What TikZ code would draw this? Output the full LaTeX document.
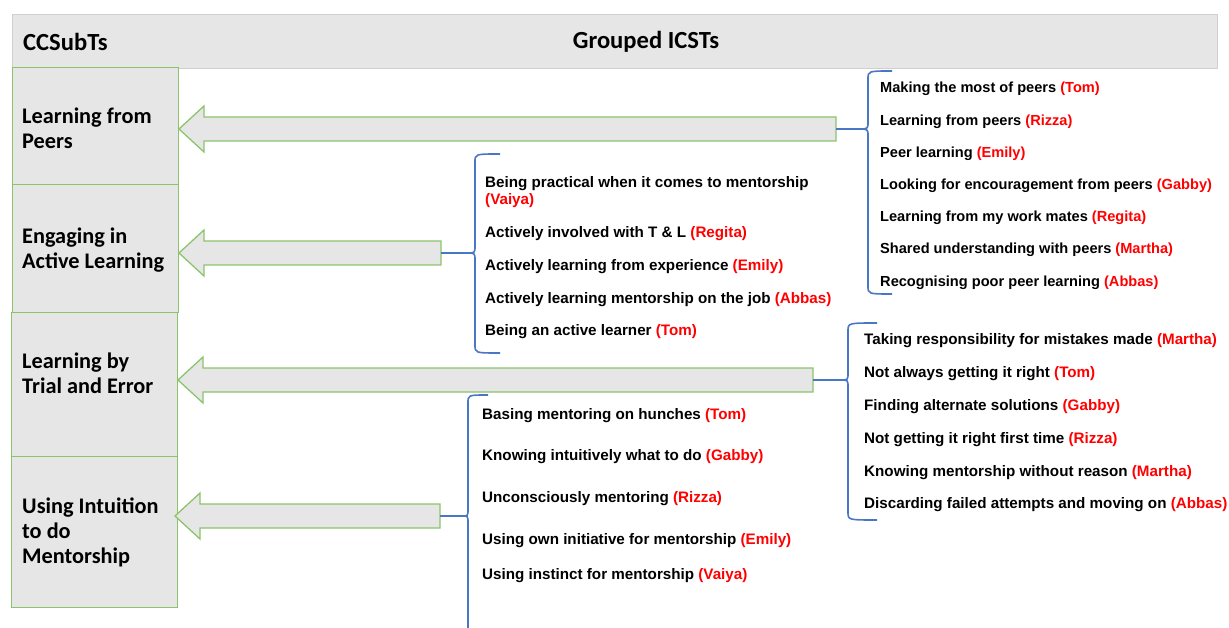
\documentclass[tikz,border=0pt]{standalone}
\usepackage{fontspec}
\setmainfont{Liberation Sans}
\newfontfamily\calfont{Carlito}
\definecolor{boxgray}{HTML}{E6E6E6}
\definecolor{boxgreen}{HTML}{8CC46C}
\definecolor{hdrline}{HTML}{D0D0D0}
\definecolor{braceblue}{HTML}{4A76C6}
\definecolor{namered}{HTML}{FF0000}
\tikzset{
  catbox/.style={draw=boxgreen, fill=boxgray, line width=1.3pt},
  cattext/.style={anchor=west, align=left, inner sep=0pt, font=\calfont\bfseries\fontsize{22.3}{25}\selectfont},
  hdrtext/.style={inner sep=0pt, font=\calfont\bfseries\fontsize{24.6}{28}\selectfont},
  item/.style={anchor=west, align=left, inner sep=0pt, font=\bfseries\fontsize{15.2}{17}\selectfont},
  peeritem/.style={item, font=\bfseries\fontsize{14.6}{17}\selectfont},
  blockarrow/.style={draw=boxgreen, fill=boxgray, line width=1.3pt, line join=miter},
  bracepath/.style={draw=braceblue, line width=1.6pt}
}
\newcommand{\who}[1]{\textcolor{namered}{(#1)}}
% left-pointing block arrow: tip x, centre y, tail x
\newcommand{\blockarr}[3]{%
  \draw[blockarrow] (#1,#2) -- ({#1+25},{#2-23}) -- ({#1+25},{#2-12}) -- (#3,{#2-12})
    -- (#3,{#2+12}) -- ({#1+25},{#2+12}) -- ({#1+25},{#2+23}) -- cycle;}
% curly brace: tip x, spine x, end x, top, middle, bottom
\newcommand{\curly}[6]{%
  \draw[bracepath] (#3,#4) .. controls (#2,#4) .. ({#2},{#4+8}) -- (#2,{#5-7})
    .. controls (#2,#5) .. (#1,#5) .. controls (#2,#5) .. (#2,{#5+7})
    -- (#2,{#6-8}) .. controls (#2,#6) .. (#3,#6);}
\begin{document}
\begin{tikzpicture}[x=1pt,y=-1pt]
\useasboundingbox (0,0) rectangle (1229,628);
\fill[white] (0,0) rectangle (1229,628);

% header band
\node[draw=hdrline, fill=boxgray, line width=1pt, minimum width=1205pt, minimum height=54pt, inner sep=0pt, anchor=north west] (hdr) at (12,14) {};
\node[hdrtext, anchor=west] (hc) at (23,42) {CCSubTs};
\node[hdrtext] (hg) at (646,42) {Grouped ICSTs};

% category boxes
\node[catbox, minimum width=166pt, minimum height=117pt, inner sep=0pt, anchor=north west] (b1) at (12,67) {};
\node[catbox, minimum width=166pt, minimum height=128pt, inner sep=0pt, anchor=north west] (b2) at (12,184) {};
\node[catbox, minimum width=166pt, minimum height=144pt, inner sep=0pt, anchor=north west] (b3) at (11,312) {};
\node[catbox, minimum width=166pt, minimum height=151pt, inner sep=0pt, anchor=north west] (b4) at (11,456) {};

\node[cattext] (t1) at (22,128) {Learning from\\Peers};
\node[cattext] (t2) at (22,250) {Engaging in\\Active Learning};
\node[cattext] (t3) at (22,373) {Learning by\\Trial and Error};
\node[cattext] (t4) at (22,532) {Using Intuition\\to do\\Mentorship};

% block arrows from each group to its category
\coordinate (a1) at (836,129);
\coordinate (a2) at (441,253);
\coordinate (a3) at (813,380);
\coordinate (a4) at (440,516);
\blockarr{179}{129}{836}
\blockarr{179}{253}{441}
\blockarr{178}{380}{813}
\blockarr{175}{516}{440}

% braces gathering the grouped codes
\curly{858}{868}{892}{71}{129}{294}
\draw[bracepath] (a1) -- (858,129);
\curly{466}{475}{500}{154}{253}{353}
\draw[bracepath] (a2) -- (466,253);
\curly{840}{848}{877}{323}{380}{520}
\draw[bracepath] (a3) -- (840,380);
\draw[bracepath] (488,395) .. controls (468,395) .. (468,403) -- (468,509)
  .. controls (468,516) .. (462,516) .. controls (468,516) .. (468,523) -- (468,640);
\draw[bracepath] (a4) -- (462,516);

% group 1
\node[peeritem] (p1) at (880,89) {Making the most of peers \who{Tom}};
\node[peeritem] (p2) at (880,122) {Learning from peers \who{Rizza}};
\node[peeritem] (p3) at (880,154) {Peer learning \who{Emily}};
\node[peeritem] (p4) at (880,186) {Looking for encouragement from peers \who{Gabby}};
\node[peeritem] (p5) at (880,218) {Learning from my work mates \who{Regita}};
\node[peeritem] (p6) at (880,250) {Shared understanding with peers \who{Martha}};
\node[peeritem] (p7) at (880,283) {Recognising poor peer learning \who{Abbas}};

% group 2
\node[item] (e1) at (485,192) {Being practical when it comes to mentorship\\\who{Vaiya}};
\node[item] (e2) at (485,234) {Actively involved with T \& L \who{Regita}};
\node[item] (e3) at (485,267) {Actively learning from experience \who{Emily}};
\node[item] (e4) at (485,300) {Actively learning mentorship on the job \who{Abbas}};
\node[item] (e5) at (485,332) {Being an active learner \who{Tom}};

% group 3
\node[item] (r1) at (864,341) {Taking responsibility for mistakes made \who{Martha}};
\node[item] (r2) at (864,374) {Not always getting it right \who{Tom}};
\node[item] (r3) at (864,407) {Finding alternate solutions \who{Gabby}};
\node[item] (r4) at (864,440) {Not getting it right first time \who{Rizza}};
\node[item] (r5) at (864,473) {Knowing mentorship without reason \who{Martha}};
\node[item] (r6) at (864,505) {Discarding failed attempts and moving on \who{Abbas}};

% group 4
\node[item] (u1) at (482,416) {Basing mentoring on hunches \who{Tom}};
\node[item] (u2) at (482,457) {Knowing intuitively what to do \who{Gabby}};
\node[item] (u3) at (482,499) {Unconsciously mentoring \who{Rizza}};
\node[item] (u4) at (482,541) {Using own initiative for mentorship \who{Emily}};
\node[item] (u5) at (482,576) {Using instinct for mentorship \who{Vaiya}};
\end{tikzpicture}
\end{document}
